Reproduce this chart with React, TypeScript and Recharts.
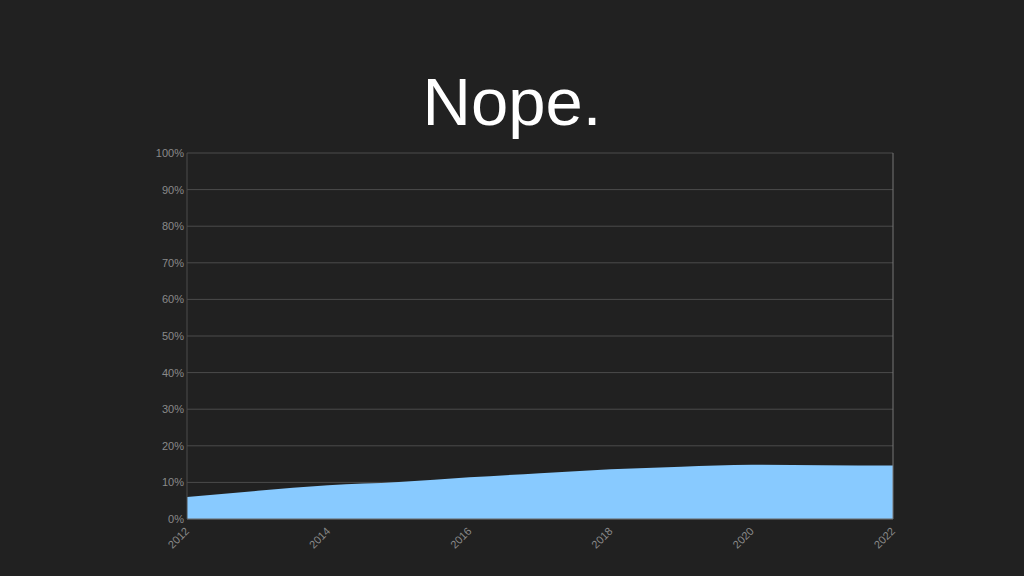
import { AreaChart, Area, XAxis, YAxis, CartesianGrid, ReferenceLine } from 'recharts';

const years = [2012, 2013, 2014, 2015, 2016, 2017, 2018, 2019, 2020, 2021, 2022];
const shares = [6.0, 7.7, 9.2, 10.1, 11.4, 12.5, 13.6, 14.3, 14.8, 14.7, 14.6];
const yTicks = [0, 10, 20, 30, 40, 50, 60, 70, 80, 90, 100];

const data = years.map((year, i) => ({ year, share: shares[i] }));

const tickFont = 'Liberation Sans, Arial, sans-serif';

function RotatedTick(props: any) {
  const { x, y, payload } = props;
  return (
    <g transform={`translate(${x},${y + 2})`}>
      <text transform="rotate(-45)" textAnchor="end" dy={4} fill="#8a8a8a" fontSize={11} fontFamily={tickFont}>
        {payload.value}
      </text>
    </g>
  );
}

function PercentTick(props: any) {
  const { y, payload } = props;
  return (
    <text x={184} y={y} dy={4} textAnchor="end" fill="#8a8a8a" fontSize={11} fontFamily={tickFont}>
      {`${payload.value}%`}
    </text>
  );
}

export default function App() {
  return (
    <div
      style={{
        position: 'fixed',
        left: 0,
        top: 0,
        width: 1024,
        height: 576,
        background: '#212121',
        overflow: 'hidden',
      }}
    >
      <div
        style={{
          position: 'absolute',
          top: 68,
          left: 0,
          width: 1024,
          textAlign: 'center',
          color: '#ffffff',
          fontSize: 67,
          lineHeight: '67px',
          fontFamily: 'Liberation Sans, Arial, sans-serif',
        }}
      >
        Nope.
      </div>
      <div style={{ position: 'absolute', left: 0, top: 0 }}>
        <AreaChart
          width={1024}
          height={576}
          data={data}
          margin={{ top: 153, right: 131, bottom: 27, left: 147 }}
        >
          <CartesianGrid vertical={false} stroke="#4c4c4c" />
          <XAxis
            dataKey="year"
            interval={1}
            height={30}
            tick={<RotatedTick />}
            tickLine={false}
            axisLine={{ stroke: '#666' }}
          />
          <YAxis
            domain={[0, 100]}
            ticks={yTicks}
            width={40}
            tick={<PercentTick />}
            tickLine={false}
            axisLine={{ stroke: '#4c4c4c' }}
          />
          <Area
            type="monotone"
            dataKey="share"
            stroke="none"
            fill="#88caff"
            fillOpacity={1}
            isAnimationActive={false}
          />
          <ReferenceLine x={2022} stroke="#777" />
        </AreaChart>
      </div>
    </div>
  );
}
